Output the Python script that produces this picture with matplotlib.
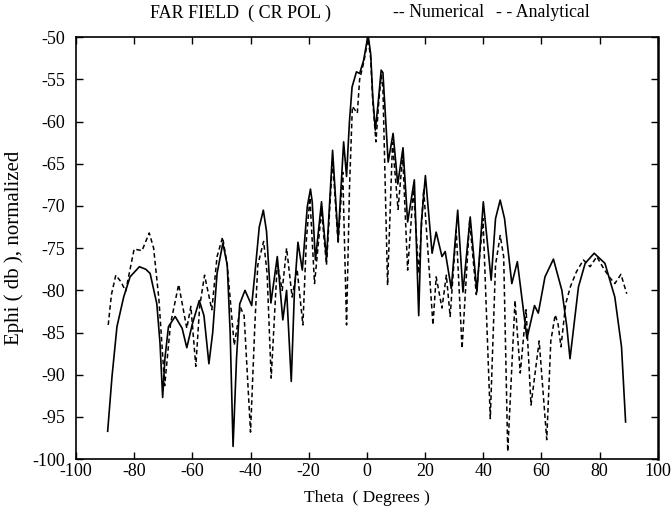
import numpy as np
import matplotlib
matplotlib.use('Agg')
import matplotlib.pyplot as plt

plt.rcParams['font.family'] = ['Liberation Serif', 'DejaVu Serif']
plt.rcParams['axes.unicode_minus'] = False

# Numerical (solid) far field, theta in degrees, Ephi in dB
theta_num = [-89.1, -87.6, -85.9, -83.6, -81.4, -78.2, -76.0, -74.5, -72.2, -71.1,
             -70.2, -69.4, -68.2, -65.9, -63.5, -61.9, -60.0, -57.6, -56.0, -54.3,
             -53.0, -51.5, -49.5, -48.0, -47.0, -46.0, -44.8, -43.7, -41.9, -39.6,
             -38.5, -37.0, -35.6, -34.5, -33.0, -30.8, -28.9, -27.6, -26.0, -24.9,
             -23.7, -22.2, -20.5, -19.4, -18.8, -17.7, -15.6, -13.9, -11.8, -9.9,
             -8.0, -7.0, -6.0, -5.1, -3.6, -2.5, -1.1, 0.4, 1.3, 2.0,
             2.9, 3.8, 4.9, 5.5, 7.3, 9.0, 10.6, 12.4, 14.0, 16.3,
             17.8, 18.7, 20.1, 22.4, 23.8, 25.8, 26.9, 29.0, 31.2, 33.0,
             35.5, 37.8, 40.0, 42.7, 44.2, 45.8, 47.3, 49.8, 51.7, 55.0,
             57.6, 58.9, 61.2, 64.1, 67.0, 68.7, 69.8, 72.7, 75.0, 78.1,
             81.8, 85.2, 87.5, 88.9]
ephi_num = [-96.7, -90.2, -84.3, -80.8, -78.4, -77.2, -77.5, -78.0, -81.6, -86.3,
            -92.7, -88.0, -84.3, -83.1, -84.5, -86.8, -84.0, -81.2, -83.0, -88.7,
            -85.0, -78.0, -74.4, -77.0, -85.0, -98.5, -88.0, -81.6, -80.0, -81.8,
            -78.0, -72.5, -70.5, -73.0, -81.5, -76.0, -83.5, -80.0, -90.8, -80.0,
            -74.3, -77.6, -70.1, -68.0, -69.5, -76.4, -69.5, -76.3, -63.4, -73.9,
            -62.4, -66.5, -60.0, -55.9, -54.1, -54.3, -52.7, -49.7, -52.0, -57.0,
            -61.0, -58.0, -53.9, -54.2, -64.8, -61.4, -67.4, -63.1, -71.9, -66.9,
            -83.0, -72.0, -66.4, -75.6, -73.1, -76.0, -75.4, -79.8, -70.5, -80.2,
            -71.3, -80.2, -69.5, -78.8, -71.5, -69.3, -71.5, -79.2, -76.6, -85.7,
            -81.8, -82.7, -78.4, -76.3, -80.0, -84.3, -88.1, -79.6, -76.8, -75.6,
            -76.8, -80.8, -86.7, -95.6]

# Analytical (dashed)
theta_ana = [-88.9, -87.8, -86.3, -84.5, -82.9, -80.0, -77.3, -74.8, -73.3, -71.5,
             -69.5, -67.5, -64.7, -61.9, -60.5, -58.8, -57.5, -55.8, -53.3, -51.5,
             -49.6, -48.0, -45.6, -43.5, -42.2, -40.0, -38.5, -37.5, -35.5, -34.3,
             -32.9, -30.8, -29.1, -27.6, -25.7, -24.0, -22.0, -20.8, -19.6, -18.0,
             -15.6, -13.9, -11.8, -9.9, -8.3, -7.0, -6.0, -5.0, -3.3, -2.5,
             -1.1, 0.4, 1.3, 2.0, 3.1, 4.0, 4.9, 5.5, 7.1, 8.8,
             10.7, 12.3, 14.0, 16.0, 17.8, 19.5, 22.7, 23.8, 25.8, 27.3,
             28.6, 30.7, 32.7, 35.3, 37.6, 39.9, 42.4, 44.2, 45.8, 47.0,
             48.4, 50.9, 52.7, 54.7, 56.4, 59.2, 61.8, 63.2, 64.7, 65.7,
             66.7, 68.3, 70.0, 72.0, 74.4, 76.7, 79.0, 81.5, 83.5, 85.2,
             87.3, 89.3]
ephi_ana = [-84.1, -80.5, -78.2, -79.0, -80.1, -75.1, -75.3, -73.2, -75.0, -81.0,
            -91.3, -84.0, -79.3, -84.5, -81.9, -89.0, -82.0, -78.2, -82.3, -76.0,
            -73.7, -77.0, -86.5, -82.0, -83.0, -96.8, -84.0, -77.0, -74.2, -78.0,
            -90.4, -76.8, -80.0, -75.0, -80.8, -77.5, -84.1, -74.0, -69.0, -79.2,
            -70.5, -77.0, -64.5, -74.5, -66.0, -84.1, -68.0, -58.2, -59.0, -55.0,
            -53.0, -50.2, -52.5, -57.5, -62.4, -58.0, -54.5, -56.0, -79.4, -62.5,
            -70.4, -64.0, -77.6, -68.0, -78.0, -68.0, -84.1, -78.4, -82.1, -78.2,
            -83.1, -72.9, -86.9, -71.7, -80.5, -71.5, -95.2, -77.0, -73.5, -76.0,
            -99.1, -81.2, -89.8, -82.3, -93.6, -86.0, -97.7, -86.0, -82.9, -84.0,
            -86.7, -81.6, -79.5, -77.8, -76.4, -77.2, -76.0, -77.5, -78.5, -79.2,
            -78.1, -80.4]

xticks = np.arange(-100, 101, 20)
yticks = np.arange(-100, -49, 5)

fig = plt.figure(figsize=(6.72, 5.17), dpi=100)
ax = fig.add_axes([0.113, 0.112, 0.866, 0.816])

ax.plot(theta_num, ephi_num, '-k', lw=1.2)
ax.plot(theta_ana, ephi_ana, color='k', lw=1.1, linestyle=(0, (3, 2)))

ax.set_xlim(-100, 100)
ax.set_ylim(-100, -50)
ax.set_xticks(xticks)
ax.set_yticks(yticks)
ax.tick_params(direction='in', top=True, right=True, length=5, width=1,
               labelsize=13)
ax.tick_params(axis='x', pad=3)
ax.tick_params(axis='y', pad=8)
for s in ax.spines.values():
    s.set_linewidth(1.2)
ax.spines['right'].set_linewidth(1.8)

ax.set_xlabel("Theta  ( Degrees )", fontsize=12.5, labelpad=7)
ax.set_ylabel("Ephi ( db ), normalized", fontsize=15, labelpad=6)

fig.text(0.223, 0.975, "FAR FIELD  ( CR POL )", fontsize=13, va='center')
fig.text(0.585, 0.975, "-- Numerical", fontsize=12.8, va='center')
fig.text(0.738, 0.975, "- - Analytical", fontsize=12.8, va='center')

plt.savefig('out.png', dpi=100)
